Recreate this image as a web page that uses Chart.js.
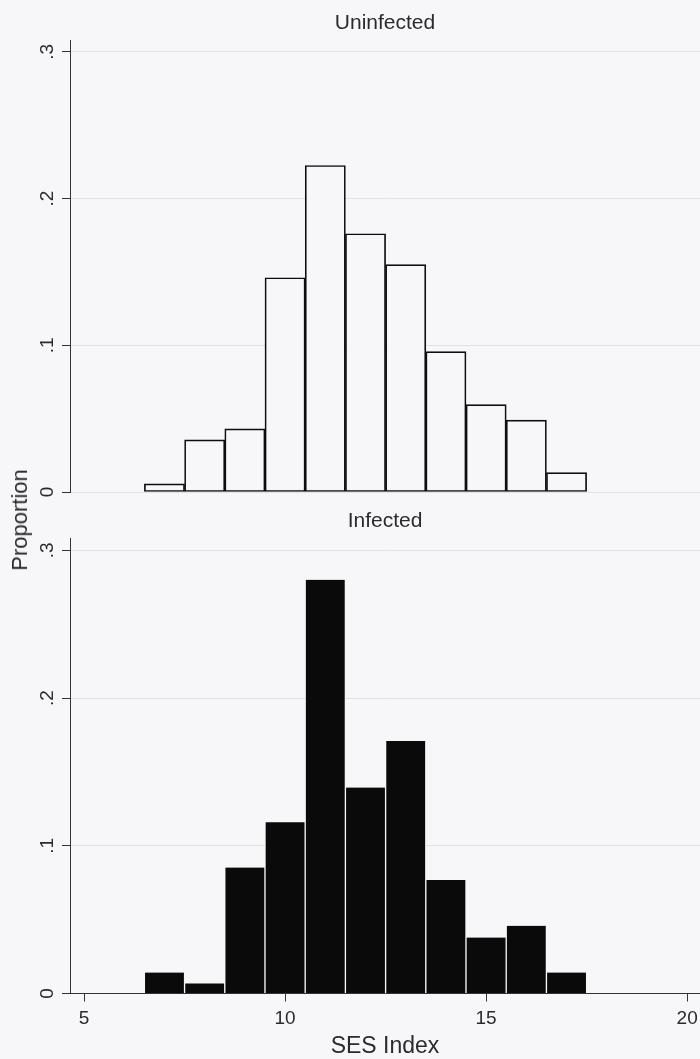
<!DOCTYPE html>
<html>
<head>
<meta charset="utf-8">
<script src="https://cdn.jsdelivr.net/npm/chart.js@4.4.0/dist/chart.umd.min.js"></script>
<style>
  html, body { margin: 0; padding: 0; background: #f7f7f9; width: 700px; height: 1059px; overflow: hidden; }
  #wrap { position: relative; width: 700px; height: 1059px; }
  #c1 { position: absolute; left: 0; top: 0; }
  #c2 { position: absolute; left: 0; top: 500px; }
  #ylab { position: absolute; left: 20px; top: 520px; transform: translate(-50%, -50%) rotate(-90deg);
          font: 22px "Liberation Sans", Arial, sans-serif; color: #2b2b2b; white-space: nowrap; line-height: 1; }
</style>
</head>
<body>
<div id="wrap">
  <canvas id="c1" width="700" height="500"></canvas>
  <canvas id="c2" width="700" height="559"></canvas>
  <div id="ylab"></div>
</div>
<script>
// ---- data ----
const binCenters = [7, 8, 9, 10, 11, 12, 13, 14, 15, 16, 17];
const uninfected = [0.0055, 0.0355, 0.043, 0.146, 0.2225, 0.176, 0.155, 0.0956, 0.0596, 0.049, 0.0132];
const infected   = [0.0142, 0.0068, 0.0853, 0.116, 0.280, 0.1394, 0.171, 0.0769, 0.0379, 0.0458, 0.0142];
const xTickValues = [5, 10, 15, 20];
const xTickLabels = ['5', '10', '15', '20'];
const yTickValues = [0, 0.1, 0.2, 0.3];
const yTickLabels = ['0', '.1', '.2', '.3'];
const panelTitles = ['Uninfected', 'Infected'];
const xAxisTitle = 'SES Index';
const yAxisTitle = 'Proportion';

document.getElementById('ylab').textContent = yAxisTitle;

const FONT = '"Liberation Sans", Arial, Helvetica, sans-serif';
const TEXT = '#2b2b2b';
const AXIS = '#333333';
const GRID = '#dfe1e4';
const BG = '#f7f7f9';

function yScale() {
  return {
    type: 'linear', position: 'left', min: 0, max: 0.308, offset: false,
    afterBuildTicks: s => { s.ticks = yTickValues.map(v => ({ value: v })); },
    afterFit: s => { s.width = 70; s.paddingTop = 0; s.paddingBottom = 0; },
    border: { display: true, color: AXIS, width: 1 },
    grid: { color: GRID, lineWidth: 1, tickLength: 8, tickColor: AXIS, drawTicks: true, offset: false },
    ticks: {
      minRotation: 90, maxRotation: 90, crossAlign: 'center', padding: 6,
      font: { family: FONT, size: 19 }, color: TEXT,
      callback: (v, i) => yTickLabels[i]
    }
  };
}

function xScale(visible) {
  return {
    type: 'linear', position: 'bottom', min: 4.65, max: 20.32, display: visible, offset: false,
    afterBuildTicks: s => { s.ticks = xTickValues.map(v => ({ value: v })); },
    afterFit: s => { if (visible) { s.height = 65.5; } s.paddingLeft = 0; s.paddingRight = 0; },
    border: { display: true, color: AXIS, width: 1 },
    grid: { drawOnChartArea: false, tickLength: 8, tickColor: AXIS, drawTicks: true, offset: false },
    ticks: { padding: 6, font: { family: FONT, size: 19 }, color: TEXT, maxRotation: 0, minRotation: 0,
             callback: (v, i) => xTickLabels[i] },
    title: { display: visible, text: xAxisTitle, font: { family: FONT, size: 23, lineHeight: 1 }, color: TEXT,
             padding: { top: 0, bottom: 0.5 } }
  };
}

function titleOpts(text, pt, pb) {
  return { display: true, text: text, fullSize: false, color: TEXT,
           font: { family: FONT, size: 21, weight: 'normal', lineHeight: 1.2 },
           padding: { top: pt, bottom: pb } };
}

const common = {
  responsive: false, animation: false, events: [],
  plugins: { legend: { display: false }, tooltip: { enabled: false } }
};

new Chart(document.getElementById('c1'), {
  type: 'bar',
  data: { datasets: [{
    data: binCenters.map((x, i) => ({ x: x, y: uninfected[i] })),
    backgroundColor: BG, borderColor: '#0d0d0d', borderWidth: 1.7, borderSkipped: false,
    barPercentage: 1, categoryPercentage: 1
  }] },
  options: Object.assign({}, common, {
    layout: { padding: { left: 0, right: 0, top: 0, bottom: 8 } },
    scales: { x: xScale(false), y: yScale() },
    plugins: Object.assign({}, common.plugins, { title: titleOpts(panelTitles[0], 10.4, 4.4) })
  })
});

new Chart(document.getElementById('c2'), {
  type: 'bar',
  data: { datasets: [{
    data: binCenters.map((x, i) => ({ x: x, y: infected[i] })),
    backgroundColor: '#0a0a0a', borderColor: BG,
    borderWidth: { left: 1, right: 1, top: 0, bottom: 0 }, borderSkipped: false,
    barPercentage: 1, categoryPercentage: 1
  }] },
  options: Object.assign({}, common, {
    layout: { padding: { left: 0, right: 0, top: 0, bottom: 0 } },
    scales: { x: xScale(true), y: yScale() },
    plugins: Object.assign({}, common.plugins, { title: titleOpts(panelTitles[1], 9.1, 4.2) })
  })
});
</script>
</body>
</html>
